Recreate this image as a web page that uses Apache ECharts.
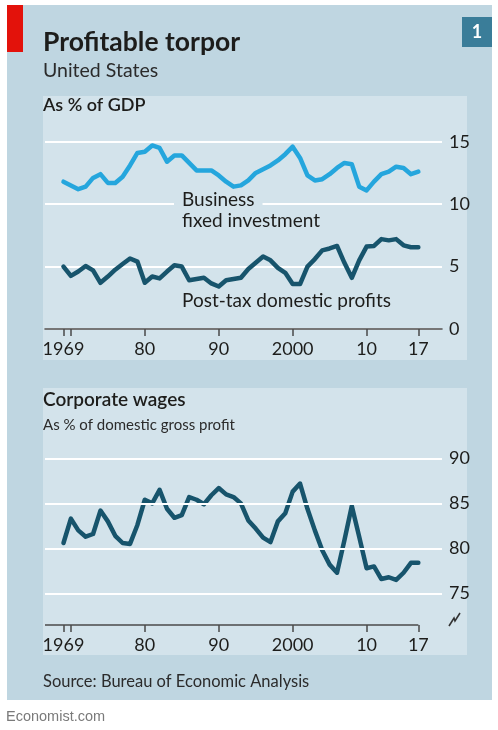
<!DOCTYPE html>
<html>
<head>
<meta charset="utf-8">
<script src="https://cdn.jsdelivr.net/npm/echarts@6/dist/echarts.min.js"></script>
<style>
  html, body { margin: 0; padding: 0; background: #ffffff; }
  #chart { width: 498px; height: 730px; }
</style>
</head>
<body>
<div id="chart"></div>
<script>
// US profits, investment and wages, 1969-2017 (annual)
const startYear = 1969;
const endYear = 2017;

// Business fixed investment, % of GDP
const investment = [
  11.8, 11.5, 11.2, 11.4, 12.1, 12.4, 11.7, 11.7, 12.2, 13.1,
  14.1, 14.2, 14.7, 14.5, 13.4, 13.9, 13.9, 13.3, 12.7, 12.7,
  12.7, 12.3, 11.8, 11.4, 11.5, 11.9, 12.5, 12.8, 13.1, 13.5,
  14.0, 14.6, 13.7, 12.3, 11.9, 12.0, 12.4, 12.9, 13.3, 13.2,
  11.4, 11.1, 11.8, 12.4, 12.6, 13.0, 12.9, 12.4, 12.6
];

// Post-tax domestic profits, % of GDP
const profits = [
  5.0, 4.25, 4.6, 5.05, 4.7, 3.7, 4.2, 4.75, 5.2, 5.65,
  5.4, 3.7, 4.2, 4.05, 4.6, 5.1, 5.0, 3.9, 4.0, 4.1,
  3.65, 3.4, 3.9, 4.0, 4.1, 4.8, 5.3, 5.8, 5.5, 4.9,
  4.5, 3.6, 3.6, 5.0, 5.6, 6.3, 6.45, 6.65, 5.3, 4.1,
  5.5, 6.6, 6.65, 7.2, 7.1, 7.2, 6.7, 6.55, 6.55
];

// Corporate wages, % of domestic gross profit
const wages = [
  80.6, 83.3, 82.0, 81.3, 81.6, 84.2, 83.0, 81.4, 80.6, 80.5,
  82.6, 85.4, 85.0, 86.5, 84.4, 83.4, 83.7, 85.7, 85.4, 84.9,
  85.9, 86.7, 86.0, 85.7, 85.0, 83.1, 82.2, 81.2, 80.7, 83.0,
  83.9, 86.3, 87.2, 84.4, 82.0, 79.8, 78.2, 77.3, 80.9, 84.7,
  81.3, 77.8, 78.0, 76.6, 76.8, 76.5, 77.3, 78.4, 78.4
];

// Axis ticks and labels
const xTickYears = [1969, 1970, 1980, 1990, 2000, 2010, 2017];
const xLabelYears = [1969, 1980, 1990, 2000, 2010, 2017];
const gdpTicks = [0, 5, 10, 15];
const wageTicks = [75, 80, 85, 90];

const years = [];
for (let y = startYear; y <= endYear; y++) years.push(y);
const pairs = vals => years.map((y, i) => [y, vals[i]]);

const FONT = 'Lato';
const INK = '#1d1d1b';
const AXIS = '#4a4a4a';
const OUTER = '#bfd6e1';
const INNER = '#d3e3eb';
const LIGHT_BLUE = '#25a6dd';
const DARK_TEAL = '#17546c';

const xMin = 1966.5, xMax = 2020.2;
const wageMin = 71.5, wageMax = 90;

function yearLabel(v) {
  const y = Math.round(v);
  if (y === 1969 || y === 2000) return String(y);
  return String(y % 100).padStart(2, '0');
}

function xAxisDef(gridIndex, showLine) {
  return {
    type: 'value', gridIndex, min: xMin, max: xMax,
    axisLine: { show: showLine, onZero: false, lineStyle: { color: AXIS, width: 1.5 } },
    axisTick: { show: true, inside: false, length: 7, customValues: xTickYears,
                lineStyle: { color: AXIS, width: 1.5 } },
    axisLabel: { customValues: xLabelYears, formatter: yearLabel, margin: 11,
                 fontFamily: FONT, fontSize: 18, color: INK },
    splitLine: { show: false }
  };
}

const chart = echarts.init(document.getElementById('chart'), null, { renderer: 'canvas' });

chart.setOption({
  backgroundColor: '#ffffff',
  animation: false,
  grid: [
    { left: 45, right: 56, top: 141.7, bottom: 401 },
    { left: 45, right: 56, top: 458.3, bottom: 105 }
  ],
  xAxis: [xAxisDef(0, true), xAxisDef(1, false)],
  yAxis: [
    {
      type: 'value', gridIndex: 0, position: 'right', min: gdpTicks[0], max: gdpTicks[3], interval: 5,
      axisLine: { show: false }, axisTick: { show: false },
      axisLabel: { margin: 7, fontFamily: FONT, fontSize: 18, color: INK, align: 'left' },
      splitLine: { show: true, lineStyle: { color: '#ffffff', width: 2 } }
    },
    {
      type: 'value', gridIndex: 1, position: 'right', min: wageMin, max: wageMax,
      axisLine: { show: false }, axisTick: { show: false },
      axisLabel: { customValues: wageTicks, margin: 7, fontFamily: FONT, fontSize: 18,
                   color: INK, align: 'left' },
      splitLine: { show: false }
    }
  ],
  graphic: [
    // panels
    { type: 'rect', z: -10, shape: { x: 7, y: 5, width: 485, height: 695 }, style: { fill: OUTER } },
    { type: 'rect', z: -9, shape: { x: 43, y: 96, width: 424, height: 264 }, style: { fill: INNER } },
    { type: 'rect', z: -9, shape: { x: 43, y: 388, width: 424, height: 267 }, style: { fill: INNER } },
    { type: 'rect', z: -8, shape: { x: 7, y: 5, width: 16, height: 47 }, style: { fill: '#e3120b' } },
    // chart number badge
    { type: 'rect', z: 50, shape: { x: 462, y: 17, width: 30, height: 30 }, style: { fill: '#3a7d99' } },
    { type: 'text', z: 51, x: 477, y: 32, style: { text: '1', fill: '#ffffff', font: 'bold 18px Lato',
      textAlign: 'center', textVerticalAlign: 'middle' } },
    // headings
    { type: 'text', z: 50, x: 43, y: 42, style: { text: 'Profitable torpor', fill: INK,
      font: 'bold 26.5px Lato', textVerticalAlign: 'middle' } },
    { type: 'text', z: 50, x: 43, y: 71, style: { text: 'United States', fill: '#2b2b2b',
      font: '19.5px Lato', textVerticalAlign: 'middle' } },
    { type: 'text', z: 50, x: 43, y: 105, style: { text: 'As % of GDP', fill: INK,
      font: '600 18px Lato', textVerticalAlign: 'middle' } },
    { type: 'text', z: 50, x: 43, y: 400, style: { text: 'Corporate wages', fill: INK,
      font: '600 19px Lato', textVerticalAlign: 'middle' } },
    { type: 'text', z: 50, x: 43, y: 425, style: { text: 'As % of domestic gross profit', fill: '#2b2b2b',
      font: '15px Lato', textVerticalAlign: 'middle' } },
    // series labels
    { type: 'text', z: 50, x: 174, y: 200, style: { text: 'Business', fill: INK, font: '19px Lato',
      textVerticalAlign: 'middle', backgroundColor: INNER, padding: [0, 8, 0, 8] } },
    { type: 'text', z: 50, x: 182, y: 221, style: { text: 'fixed investment', fill: INK, font: '19px Lato',
      textVerticalAlign: 'middle' } },
    { type: 'text', z: 50, x: 182, y: 301, style: { text: 'Post-tax domestic profits', fill: INK,
      font: '19px Lato', textVerticalAlign: 'middle' } },
    // axis break marker
    { type: 'polyline', z: 50, shape: { points: [[449, 626], [454, 618], [455, 621], [460, 613]] },
      style: { stroke: '#333333', lineWidth: 1.6, fill: null } },
    // footer
    { type: 'text', z: 50, x: 43, y: 682, style: { text: 'Source: Bureau of Economic Analysis',
      fill: '#2b2b2b', font: '16.5px Lato', textVerticalAlign: 'middle' } },
    { type: 'text', z: 50, x: 6, y: 717, style: { text: 'Economist.com', fill: '#7a7a7a',
      font: '14.5px "Liberation Sans"', textVerticalAlign: 'middle' } }
  ],
  series: [
    {
      name: 'Business fixed investment', type: 'line', xAxisIndex: 0, yAxisIndex: 0, z: 3,
      data: pairs(investment), showSymbol: false,
      lineStyle: { color: LIGHT_BLUE, width: 4.5, join: 'round', cap: 'round' }
    },
    {
      name: 'Post-tax domestic profits', type: 'line', xAxisIndex: 0, yAxisIndex: 0, z: 3,
      data: pairs(profits), showSymbol: false,
      lineStyle: { color: DARK_TEAL, width: 4.5, join: 'round', cap: 'round' }
    },
    {
      // gridlines and baseline of the wages panel
      name: 'wage grid', type: 'line', xAxisIndex: 1, yAxisIndex: 1, z: 1, data: [],
      silent: true,
      markLine: {
        silent: true, symbol: 'none', label: { show: false }, animation: false,
        data: wageTicks.map(v => ({ yAxis: v, lineStyle: { color: '#ffffff', width: 2, type: 'solid' } }))
          .concat([[
            { coord: [xMin, wageMin], lineStyle: { color: AXIS, width: 1.5, type: 'solid' } },
            { coord: [endYear, wageMin] }
          ]])
      }
    },
    {
      name: 'Corporate wages', type: 'line', xAxisIndex: 1, yAxisIndex: 1, z: 3,
      data: pairs(wages), showSymbol: false,
      lineStyle: { color: DARK_TEAL, width: 4.5, join: 'round', cap: 'round' }
    }
  ]
});
</script>
</body>
</html>
